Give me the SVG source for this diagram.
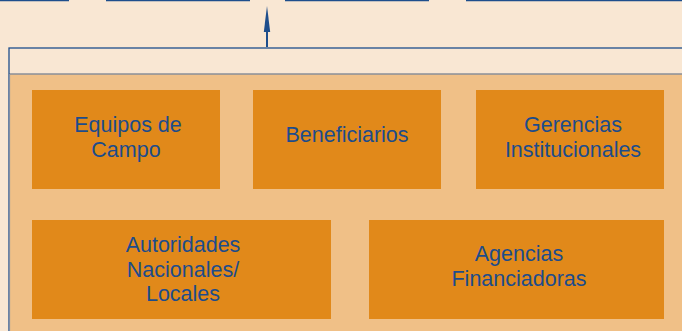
<svg xmlns="http://www.w3.org/2000/svg" width="682" height="331" viewBox="0 0 682 331">
<style>
.box{fill:#E1891A}
.t{font-family:"Liberation Sans",Arial,sans-serif;font-size:21.5px;fill:#1C4C8B;text-anchor:middle}
.ln{stroke:#1E4E8C;fill:none}
</style>
<rect width="682" height="331" fill="#F9E7D3"/>
<g id="connectors">
<line class="ln" x1="0" y1="0.5" x2="69" y2="0.5" stroke-width="1.5"/>
<line class="ln" x1="106" y1="0.5" x2="250" y2="0.5" stroke-width="1.5"/>
<line class="ln" x1="285" y1="0.5" x2="429" y2="0.5" stroke-width="1.5"/>
<line class="ln" x1="466" y1="0.5" x2="682" y2="0.5" stroke-width="1.5"/>
<line class="ln" x1="267" y1="47" x2="267" y2="30" stroke-width="2"/>
<path d="M263.8,32 L267,6 L270.2,32 Z" fill="#1E4E8C"/>
</g>
<g id="container">
<rect x="9" y="74" width="680" height="260" fill="#F0C087"/>
<line x1="9" y1="74" x2="682" y2="74" stroke="#8A8F99" stroke-width="1.5"/>
<rect x="9" y="48" width="680" height="290" fill="none" stroke="#1E4E8C" stroke-width="1.3"/>
<line x1="9.5" y1="74" x2="9.5" y2="331" stroke="#7F8EA6" stroke-width="1.2"/>
</g>
<g id="equipos">
<rect class="box" x="32" y="90" width="188" height="99"/>
<text class="t"><tspan x="128" y="132">Equipos de</tspan><tspan x="126" y="156.5">Campo</tspan></text>
</g>
<g id="beneficiarios">
<rect class="box" x="253" y="90" width="188" height="99"/>
<text class="t" x="347" y="142">Beneficiarios</text>
</g>
<g id="gerencias">
<rect class="box" x="476" y="90" width="188" height="99"/>
<text class="t"><tspan x="573" y="132">Gerencias</tspan><tspan x="573" y="157">Institucionales</tspan></text>
</g>
<g id="autoridades">
<rect class="box" x="32" y="220" width="299" height="99"/>
<text class="t"><tspan x="183" y="252">Autoridades</tspan><tspan x="183" y="276.5">Nacionales/</tspan><tspan x="183" y="301">Locales</tspan></text>
</g>
<g id="agencias">
<rect class="box" x="369" y="220" width="295" height="99"/>
<text class="t"><tspan x="519" y="261">Agencias</tspan><tspan x="519" y="286">Financiadoras</tspan></text>
</g>
</svg>
